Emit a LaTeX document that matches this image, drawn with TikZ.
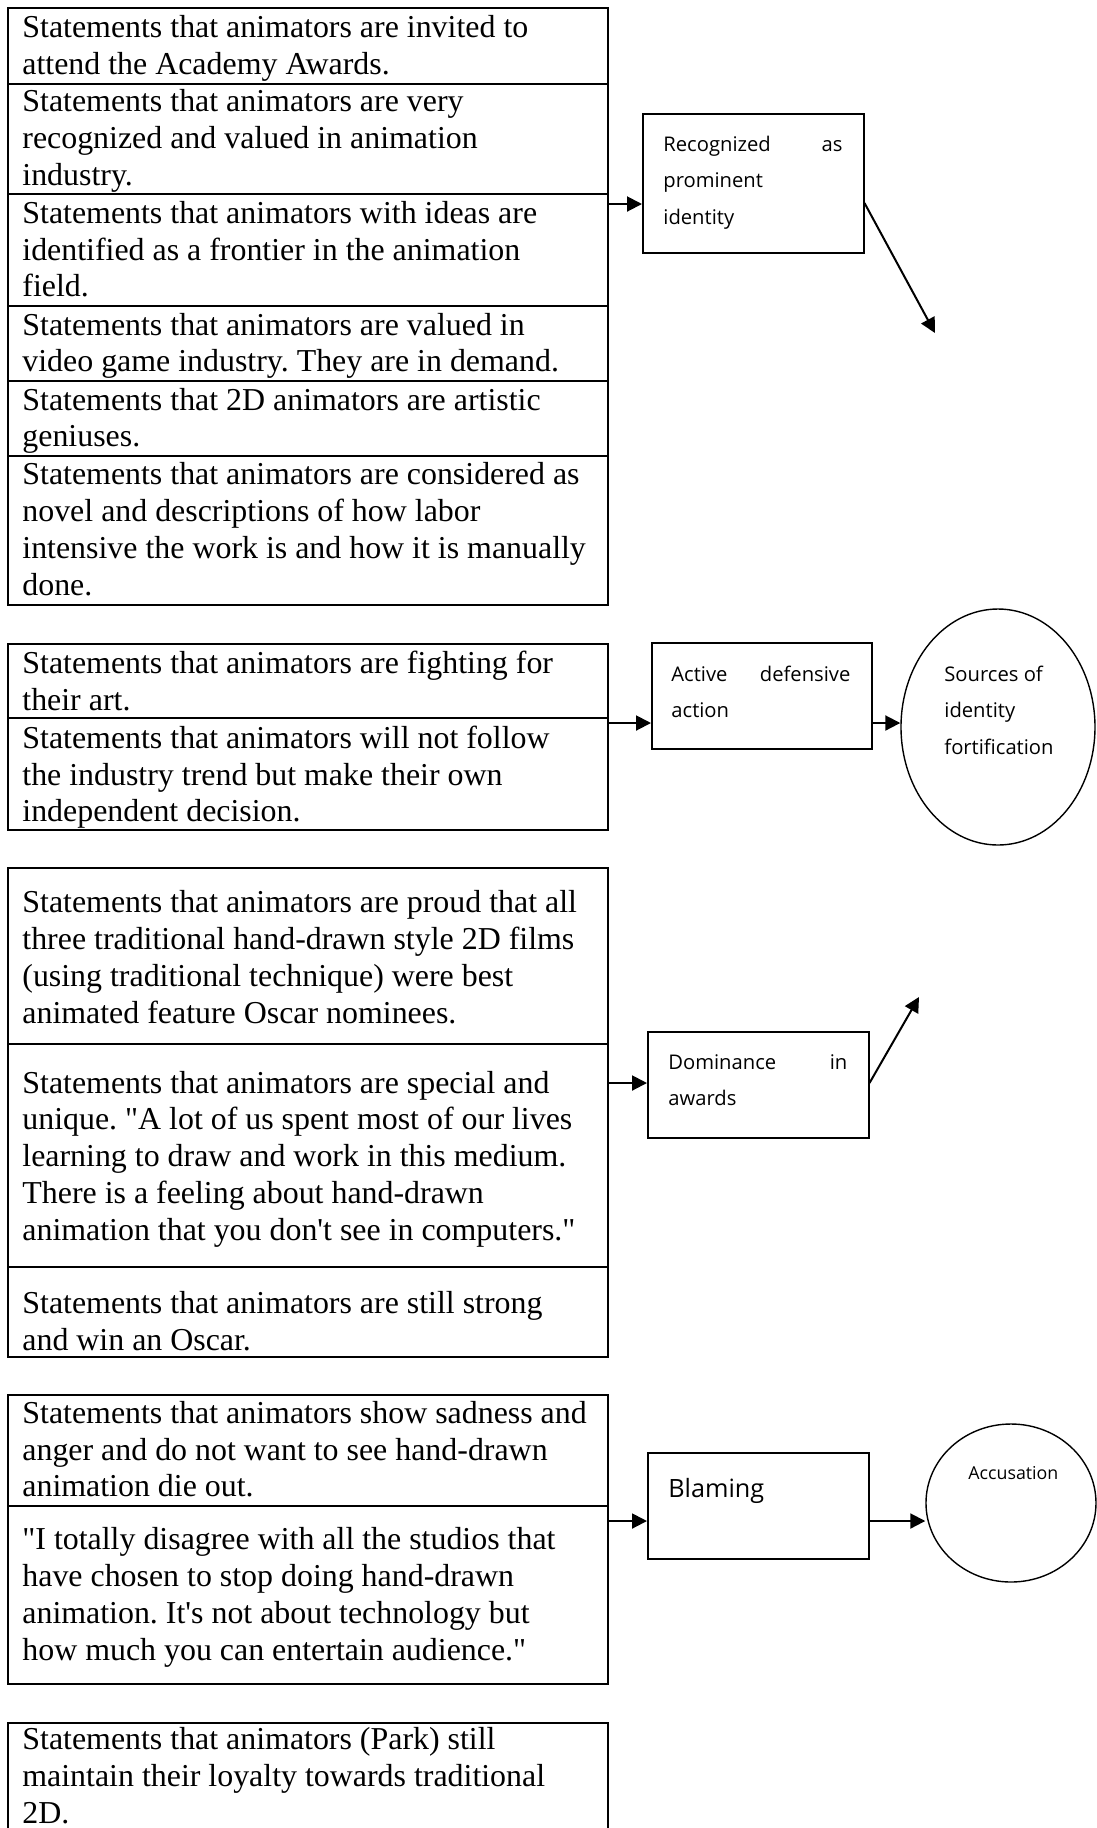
\documentclass[tikz,border=0pt]{standalone}
\usepackage{fontspec}
\setmainfont{Liberation Serif}[Ligatures=TeXOff]
\newfontfamily\uisans{Open Sans}
\usetikzlibrary{arrows.meta,shapes.geometric}
\frenchspacing
\tikzset{
  grp/.style={draw, line width=1pt, inner sep=0pt, anchor=north west},
  div/.style={line width=1pt},
  stxt/.style={anchor=base west, inner sep=0pt, align=left, font=\frenchspacing\fontsize{15.95}{18.35}\selectfont},
  rbox/.style={draw, line width=0.75pt, inner sep=0pt, anchor=north west},
  rtxt/.style={anchor=base west, inner sep=0pt, align=left, font=\uisans\fontsize{10.1}{18.3}\selectfont},
  oval/.style={draw, ellipse, line width=0.7pt, inner sep=0pt},
  arr/.style={line width=1pt, -{Triangle[length=7.5pt,width=7.5pt]}},
}
\begin{document}
\begin{tikzpicture}[x=0.5pt,y=-0.5pt]
\useasboundingbox (0,0) rectangle (1097,1828);
\clip (0,0) rectangle (1097,1828);
\fill[white] (0,0) rectangle (1097,1828);

% (text nodes are placed by the baseline of their LAST line)
% ---------- group 1 ----------
\node[grp, minimum width=300pt, minimum height=298.5pt] (g1) at (7,7) {};
\draw[div] (g1.west |- 0,84) -- (g1.east |- 0,84);
\draw[div] (g1.west |- 0,194) -- (g1.east |- 0,194);
\draw[div] (g1.west |- 0,306) -- (g1.east |- 0,306);
\draw[div] (g1.west |- 0,381) -- (g1.east |- 0,381);
\draw[div] (g1.west |- 0,456) -- (g1.east |- 0,456);
\node[stxt] (t1a) at (22,74) {Statements that animators are invited to\\attend the Academy Awards.};
\node[stxt] (t1b) at (22,185) {Statements that animators are very\\recognized and valued in animation\\industry.};
\node[stxt] (t1c) at (22,296.7) {Statements that animators with ideas are\\identified as a frontier in the animation\\field.};
\node[stxt] (t1d) at (22,371.7) {Statements that animators are valued in\\video game industry. They are in demand.};
\node[stxt] (t1e) at (22,446.7) {Statements that 2D animators are artistic\\geniuses.};
\node[stxt] (t1f) at (22,595) {Statements that animators are considered as\\novel and descriptions of how labor\\intensive the work is and how it is manually\\done.};

% ---------- group 2 ----------
\node[grp, minimum width=300pt, minimum height=93pt] (g2) at (7,643) {};
\draw[div] (g2.west |- 0,718) -- (g2.east |- 0,718);
\node[stxt] (t2a) at (22,710) {Statements that animators are fighting for\\their art.};
\node[stxt] (t2b) at (22,821.7) {Statements that animators will not follow\\the industry trend but make their own\\independent decision.};

% ---------- group 3 ----------
\node[grp, minimum width=300pt, minimum height=244.5pt] (g3) at (7,867) {};
\draw[div] (g3.west |- 0,1044) -- (g3.east |- 0,1044);
\draw[div] (g3.west |- 0,1267) -- (g3.east |- 0,1267);
\node[stxt] (t3a) at (22,1023) {Statements that animators are proud that all\\three traditional hand-drawn style 2D films\\(using traditional technique) were best\\animated feature Oscar nominees.};
\node[stxt] (t3b) at (22,1240) {Statements that animators are special and\\unique. "A lot of us spent most of our lives\\learning to draw and work in this medium.\\There is a feeling about hand-drawn\\animation that you don't see in computers."};
\node[stxt] (t3c) at (22,1350) {Statements that animators are still strong\\and win an Oscar.};

% ---------- group 4 ----------
\node[grp, minimum width=300pt, minimum height=144.5pt] (g4) at (7,1394) {};
\draw[div] (g4.west |- 0,1506) -- (g4.east |- 0,1506);
\node[stxt] (t4a) at (22,1496.7) {Statements that animators show sadness and\\anger and do not want to see hand-drawn\\animation die out.};
\node[stxt] (t4b) at (22,1660) {"I totally disagree with all the studios that\\have chosen to stop doing hand-drawn\\animation. It's not about technology but\\how much you can entertain audience."};

% ---------- group 5 ----------
\node[grp, minimum width=300pt, minimum height=70pt] (g5) at (7,1722) {};
\node[stxt] (t5a) at (22,1823.3) {Statements that animators (Park) still\\maintain their loyalty towards traditional\\2D.};

% ---------- right-hand nodes ----------
\node[rbox, minimum width=110.5pt, minimum height=69.5pt] (rec) at (642,113) {};
\node[rtxt] (rect) at (663,224.2) {\makebox[89.5pt][s]{Recognized as}\\prominent\\identity};

\node[rbox, minimum width=110pt, minimum height=53pt] (act) at (651,642) {};
\node[rtxt] (actt) at (671,717.6) {\makebox[89.5pt][s]{Active defensive}\\action};

\node[oval, minimum width=97pt, minimum height=118pt] (src) at (998,727) {};
\node[rtxt] (srct) at (944,754.2) {Sources of\\identity\\fortification};

\node[rbox, minimum width=110.5pt, minimum height=53pt] (dom) at (647,1031) {};
\node[rtxt] (domt) at (668,1105.6) {\makebox[89.5pt][s]{Dominance in}\\awards};

\node[rbox, minimum width=110.5pt, minimum height=53pt] (bla) at (647,1452) {};
\node[anchor=base west, inner sep=0pt, font=\uisans\fontsize{12.6}{15}\selectfont] (blat) at (668,1497) {Blaming};

\node[oval, minimum width=85pt, minimum height=79pt] (acc) at (1011,1503) {};
\node[anchor=base west, inner sep=0pt, font=\uisans\fontsize{8.9}{11}\selectfont] (acct) at (968,1479) {Accusation};

% ---------- connectors ----------
\coordinate (e1) at (935,333);
\coordinate (e2) at (919,997);
\draw[arr] (g1.east |- 0,204) -- (rec.west |- 0,204);
\draw[arr] (rec.east |- 0,203) -- (e1);
\draw[arr] (g2.east |- 0,723) -- (act.west |- 0,723);
\draw[arr] (act.east |- 0,723) -- (src.west |- 0,723);
\draw[arr] (g3.east |- 0,1083) -- (dom.west |- 0,1083);
\draw[arr] (dom.east |- 0,1083) -- (e2);
\draw[arr] (g4.east |- 0,1521) -- (bla.west |- 0,1521);
\draw[arr] (bla.east |- 0,1521) -- (acc.west |- 0,1521);
\end{tikzpicture}
\end{document}
